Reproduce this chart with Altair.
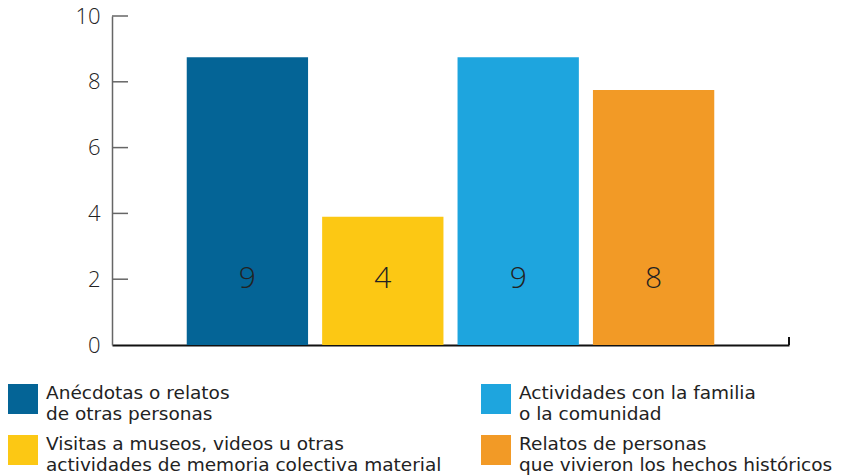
import altair as alt
import pandas as pd

# Data
categories = [
    "Anécdotas o relatos\nde otras personas",
    "Visitas a museos, videos u otras\nactividades de memoria colectiva material",
    "Actividades con la familia\no la comunidad",
    "Relatos de personas\nque vivieron los hechos históricos",
]
bar_values = [8.75, 3.9, 8.75, 7.75]
bar_labels = ["9", "4", "9", "8"]
label_y = [2, 2, 2, 2]
bar_colors = ["#046496", "#FCC814", "#1EA5DE", "#F29A26"]
y_ticks = [0, 2, 4, 6, 8, 10]

FONT = "Open Sans"
LEG_FONT = "DejaVu Sans"

df = pd.DataFrame({"cat": categories, "leg": categories, "value": bar_values,
                   "label": bar_labels, "ly": label_y})
ticks_df = pd.DataFrame({"t": y_ticks})

x_scale = alt.Scale(domain=categories, paddingInner=0.104, paddingOuter=0.552)
y_scale = alt.Scale(domain=[0, 10])

bars = alt.Chart(df).mark_bar().encode(
    x=alt.X("cat:N", scale=x_scale, sort=categories,
            axis=alt.Axis(title=None, labels=False, ticks=False, domainColor="#111",
                          domainWidth=2)),
    y=alt.Y("value:Q", scale=y_scale,
            axis=alt.Axis(title=None, values=y_ticks, ticks=False, grid=False,
                          domainColor="#666", domainWidth=1.5, labelFont=FONT,
                          labelFontSize=22, labelColor="#222", labelPadding=12,
                          labelFontWeight=300)),
    color=alt.Color("leg:N", sort=categories,
                    scale=alt.Scale(domain=categories, range=bar_colors),
                    legend=alt.Legend(title=None, orient="none", legendX=-104, legendY=368,
                                      columns=2, columnPadding=39, rowPadding=12,
                                      symbolType="square", symbolSize=900,
                                      symbolStrokeWidth=0, symbolOpacity=1,
                                      labelFont=LEG_FONT, labelFontSize=18.5, labelColor="#222",
                                      labelOffset=8, labelLimit=600,
                                      labelBaseline="alphabetic",
                                      labelExpr="split(datum.label, '\\n')")),
)

texts = alt.Chart(df).mark_text(font=FONT, fontSize=30, color="#222", fontWeight=300).encode(
    x=alt.X("cat:N", scale=x_scale, sort=categories),
    y=alt.Y("ly:Q", scale=y_scale),
    text="label:N",
)

tick_rules = alt.Chart(ticks_df).transform_filter("datum.t > 0").mark_rule(
    color="#666", strokeWidth=1.5).encode(
    y=alt.Y("t:Q", scale=y_scale),
    x=alt.value(0),
    x2=alt.value(16),
)

end_tick = alt.Chart(ticks_df).transform_filter("datum.t == 0").mark_rule(
    color="#111", strokeWidth=2).encode(
    x=alt.value(677),
    y=alt.value(321),
    y2=alt.value(329),
)

chart = alt.layer(bars, texts, tick_rules, end_tick).properties(
    width=677, height=329,
    autosize=alt.AutoSizeParams(type="none"),
    padding={"left": 112, "top": 16, "right": 54, "bottom": 130},
).configure_view(stroke=None)

chart.save("out.html", embed_options={"renderer": "svg", "actions": False})
